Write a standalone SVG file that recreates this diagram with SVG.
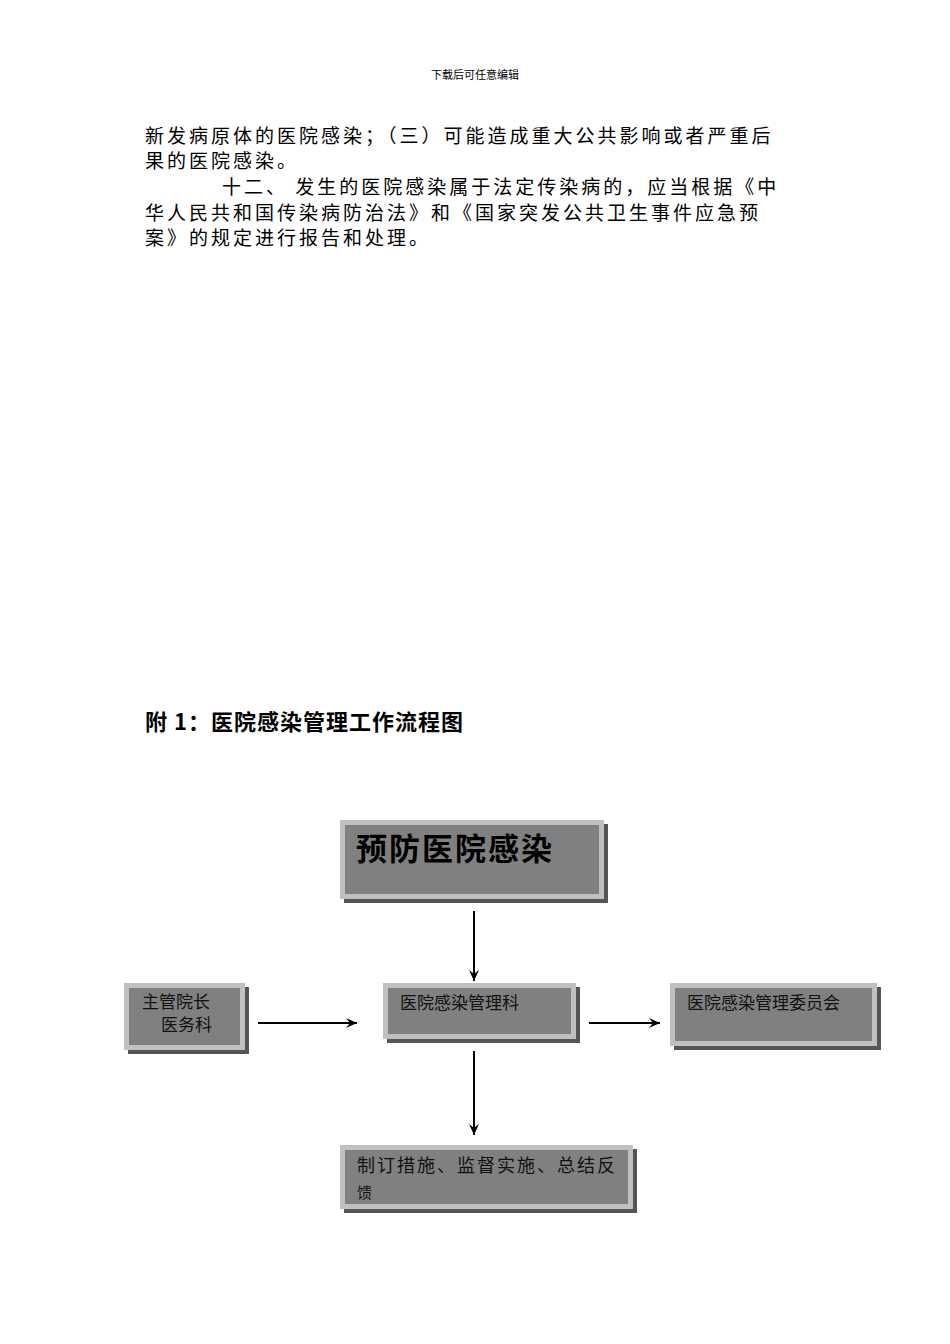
<svg xmlns="http://www.w3.org/2000/svg" width="950" height="1344" viewBox="0 0 950 1344">
<style>
.t{font-family:"Noto Sans CJK SC","Liberation Serif",serif;fill:#000}
.b{font-size:19px;letter-spacing:3px}
.o{fill:#c0c0c0}
.s{fill:#555}
.i{fill:#808080}
.n{font-family:"Noto Sans CJK SC",sans-serif;font-size:17px;fill:#111}
.c{stroke:#000;stroke-width:2;fill:none;marker-end:url(#a)}
</style>
<defs><marker id="a" markerWidth="12" markerHeight="10" refX="11" refY="5" orient="auto" markerUnits="userSpaceOnUse"><path d="M0,0 L11,5 L0,10 L4,5Z" fill="#000"/></marker></defs>
<rect width="950" height="1344" fill="#fff"/>
<text class="t" x="475" y="79" font-size="11" text-anchor="middle">下载后可任意编辑</text>
<text class="t b" x="145" y="143">新发病原体的医院感染；（三）可能造成重大公共影响或者严重后</text>
<text class="t b" x="145" y="168">果的医院感染。</text>
<text class="t b" x="222" y="194">十二、 发生的医院感染属于法定传染病的，应当根据《中</text>
<text class="t b" x="145" y="220">华人民共和国传染病防治法》和《国家突发公共卫生事件应急预</text>
<text class="t b" x="145" y="245">案》的规定进行报告和处理。</text>
<text class="t" x="145" y="730" style="font-size:22px;font-weight:bold;letter-spacing:1px">附 1：医院感染管理工作流程图</text>
<g id="top"><rect class="s" x="344" y="824" width="264" height="79"/><rect class="o" x="340" y="820" width="264" height="79"/><rect class="i" x="345" y="825" width="254" height="69"/><text class="n" x="356" y="860" style="font-size:31px;font-weight:bold;fill:#000;letter-spacing:2px">预防医院感染</text></g>
<g id="dept"><rect class="s" x="387" y="987" width="193" height="56"/><rect class="o" x="383" y="983" width="193" height="56"/><rect class="i" x="388" y="988" width="183" height="46"/><text class="n" x="400" y="1009">医院感染管理科</text></g>
<g id="left"><rect class="s" x="128" y="987" width="121" height="67"/><rect class="o" x="124" y="983" width="121" height="67"/><rect class="i" x="129" y="988" width="111" height="57"/><text class="n" x="142" y="1008">主管院长</text><text class="n" x="161" y="1031">医务科</text></g>
<g id="right"><rect class="s" x="674" y="987" width="207" height="63"/><rect class="o" x="670" y="983" width="207" height="63"/><rect class="i" x="675" y="988" width="197" height="53"/><text class="n" x="687" y="1009">医院感染管理委员会</text></g>
<g id="bottom"><rect class="s" x="344" y="1149" width="293" height="64"/><rect class="o" x="340" y="1145" width="293" height="64"/><rect class="i" x="345" y="1150" width="283" height="54"/><text class="n" x="357" y="1172" style="font-size:18px;letter-spacing:2px">制订措施、监督实施、总结反</text><text class="n" x="357" y="1198" style="font-size:15px">馈</text></g>
<g id="connectors">
<line class="c" x1="474" y1="911" x2="474" y2="981"/>
<line class="c" x1="258" y1="1023" x2="357" y2="1023"/>
<line class="c" x1="589" y1="1023" x2="660" y2="1023"/>
<line class="c" x1="474" y1="1051" x2="474" y2="1135"/>
</g>
</svg>
